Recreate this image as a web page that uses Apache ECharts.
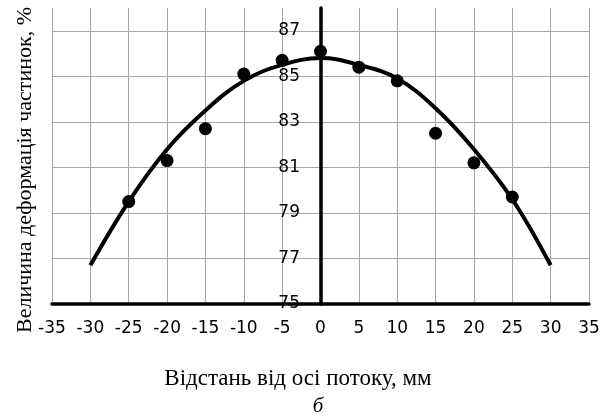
<!DOCTYPE html>
<html>
<head>
<meta charset="utf-8">
<script src="https://cdn.jsdelivr.net/npm/echarts@6/dist/echarts.min.js"></script>
<style>
  html, body { margin: 0; padding: 0; background: #fff; }
  #chart { width: 607px; height: 419px; }
</style>
</head>
<body>
<div id="chart"></div>
<script>
// measured points
const pointX = [-25, -20, -15, -10, -5, 0, 5, 10, 15, 20, 25];
const pointY = [79.5, 81.3, 82.7, 85.1, 85.7, 86.1, 85.4, 84.8, 82.5, 81.2, 79.7];
// trend curve
const curveX = [-30, -25, -20, -15, -10, -5, 0, 5, 10, 15, 20, 25, 30];
const curveY = [76.7, 79.5, 81.8, 83.5, 84.8, 85.5, 85.8, 85.5, 84.9, 83.6, 81.8, 79.6, 76.7];

const xTitle = "Відстань від осі потоку, мм";
const yTitle = "Величина деформація частинок, %";
const subLabel = "б";

const chart = echarts.init(document.getElementById("chart"));

const gridColor = "#a6a6a6";

const option = {
  animation: false,
  grid: { left: 52, right: 18, top: 8, bottom: 115 },
  xAxis: {
    type: "value",
    min: -35,
    max: 35,
    interval: 5,
    axisLine: { lineStyle: { color: "#000", width: 3.5 } },
    axisTick: { show: false },
    axisLabel: {
      color: "#000",
      fontFamily: "DejaVu Sans",
      fontSize: 17,
      margin: 16,
    },
    splitLine: { show: true, lineStyle: { color: gridColor, width: 1 } },
  },
  yAxis: {
    type: "value",
    min: 75,
    max: 88,
    interval: 2,
    axisLine: { onZero: true, lineStyle: { color: "#000", width: 3.5 } },
    axisTick: { show: false },
    axisLabel: {
      color: "#000",
      fontFamily: "DejaVu Sans",
      fontSize: 17,
      // labels sit next to the axis drawn at x = 0
      margin: -248,
      showMaxLabel: false,
    },
    splitLine: {
      show: true,
      lineStyle: {
        color: [gridColor, gridColor, gridColor, gridColor, gridColor, gridColor, gridColor, "rgba(0,0,0,0)"],
        width: 1,
      },
    },
  },
  series: [
    {
      type: "line",
      data: curveX.map((x, i) => [x, curveY[i]]),
      smooth: 0.4,
      showSymbol: false,
      lineStyle: { color: "#000", width: 4 },
      z: 3,
    },
    {
      type: "scatter",
      data: pointX.map((x, i) => [x, pointY[i]]),
      symbolSize: 13,
      itemStyle: { color: "#000", opacity: 1 },
      z: 4,
    },
  ],
  graphic: [
    {
      type: "text",
      x: 298,
      y: 379,
      style: {
        text: xTitle,
        font: '23px "Liberation Serif"',
        fill: "#000",
        align: "center",
        verticalAlign: "middle",
      },
    },
    {
      type: "text",
      x: 318,
      y: 406,
      style: {
        text: subLabel,
        font: 'italic 21px "Liberation Serif"',
        fill: "#000",
        align: "center",
        verticalAlign: "middle",
      },
    },
    {
      type: "text",
      x: 25,
      y: 170,
      rotation: Math.PI / 2,
      style: {
        text: yTitle,
        font: '22px "Liberation Serif"',
        fill: "#000",
        align: "center",
        verticalAlign: "middle",
      },
    },
  ],
};

chart.setOption(option);
</script>
</body>
</html>
